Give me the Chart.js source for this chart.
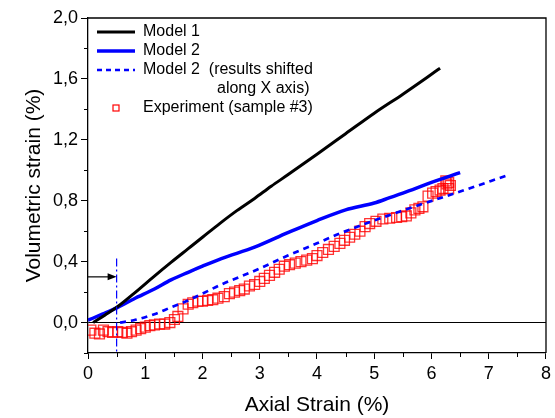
<!DOCTYPE html>
<html><head><meta charset="utf-8">
<script src="https://cdn.jsdelivr.net/npm/chart.js@4/dist/chart.umd.min.js"></script>
<style>html,body{margin:0;padding:0;background:#fff}</style>
</head><body>
<canvas id="c" width="555" height="418"></canvas>
<script>
// ---- data ----
const model1X = [0.09, 0.3, 0.52, 0.8, 1.16, 1.45, 1.75, 2.0, 2.3, 2.6, 2.91, 3.2, 3.49, 4.0, 4.5, 5.0, 5.5, 6.15];
const model1Y = [0.0, 0.05, 0.105, 0.19, 0.305, 0.395, 0.485, 0.56, 0.65, 0.735, 0.815, 0.895, 0.97, 1.105, 1.24, 1.375, 1.5, 1.67];
const model2X = [0.0, 0.25, 0.52, 0.8, 1.16, 1.45, 1.75, 2.0, 2.33, 2.91, 3.49, 4.0, 4.5, 5.0, 5.27, 5.5, 6.0, 6.5];
const model2Y = [0.015, 0.055, 0.10, 0.155, 0.22, 0.28, 0.33, 0.37, 0.42, 0.495, 0.59, 0.67, 0.74, 0.785, 0.82, 0.85, 0.92, 0.985];
const shiftedX = [0.56, 0.8, 1.16, 1.45, 1.75, 2.0, 2.33, 2.91, 3.49, 4.0, 4.4, 5.0, 5.85, 6.5, 7.31];
const shiftedY = [0.0, 0.015, 0.055, 0.10, 0.145, 0.19, 0.25, 0.34, 0.44, 0.52, 0.585, 0.67, 0.78, 0.86, 0.965];
const expX = [0.05, 0.12, 0.2, 0.27, 0.35, 0.43, 0.52, 0.6, 0.68, 0.76, 0.84, 0.92, 1.0, 1.08, 1.16, 1.25, 1.34, 1.43, 1.51, 1.57, 1.66, 1.75, 1.83, 1.92, 2.0, 2.09, 2.18, 2.27, 2.38, 2.47, 2.56, 2.65, 2.73, 2.82, 2.91, 3.0, 3.08, 3.17, 3.26, 3.34, 3.43, 3.52, 3.62, 3.72, 3.82, 3.92, 4.0, 4.1, 4.2, 4.3, 4.4, 4.48, 4.57, 4.66, 4.75, 4.84, 4.92, 5.03, 5.15, 5.27, 5.39, 5.48, 5.56, 5.64, 5.71, 5.78, 5.85, 5.94, 6.02, 6.08, 6.15, 6.2, 6.25, 6.3, 6.33, 6.3, 6.27];
const expY = [-0.05, -0.07, -0.075, -0.05, -0.06, -0.065, -0.06, -0.065, -0.07, -0.06, -0.05, -0.04, -0.03, -0.02, -0.015, -0.01, -0.01, 0.0, 0.02, 0.04, 0.09, 0.12, 0.13, 0.14, 0.14, 0.145, 0.15, 0.16, 0.17, 0.19, 0.2, 0.21, 0.22, 0.24, 0.25, 0.27, 0.29, 0.31, 0.33, 0.35, 0.37, 0.38, 0.39, 0.4, 0.41, 0.42, 0.44, 0.46, 0.48, 0.5, 0.52, 0.54, 0.56, 0.58, 0.6, 0.63, 0.65, 0.665, 0.68, 0.685, 0.69, 0.695, 0.7, 0.72, 0.74, 0.75, 0.76, 0.83, 0.85, 0.86, 0.87, 0.88, 0.93, 0.92, 0.9, 0.88, 0.91];
const legendLabels = ['Model 1', 'Model 2', 'Model 2  (results shifted', 'along X axis)', 'Experiment (sample #3)'];
const xTitle = 'Axial Strain (%)';
const yTitle = 'Volumetric strain (%)';
const arrowY = 0.3, arrowFromX = 0.0, arrowToX = 0.5;
const markerX = 0.5, markerTopY = 0.42;

const toPts = (xs, ys) => xs.map((x, i) => ({x, y: ys[i]}));
const FONT = "'Liberation Sans', Arial, sans-serif";
const isMult = (v, s) => Math.abs(v / s - Math.round(v / s)) < 1e-6;

const extras = {
  id: 'extras',
  afterDraw(chart) {
    const {ctx, chartArea: a, scales: {x, y}} = chart;
    ctx.save();
    // frame top/right
    ctx.strokeStyle = '#000'; ctx.lineWidth = 1.3;
    ctx.beginPath();
    ctx.moveTo(a.left, a.top); ctx.lineTo(a.right, a.top); ctx.lineTo(a.right, a.bottom);
    ctx.stroke();
    // minor ticks
    ctx.lineWidth = 1;
    y.ticks.forEach(t => { if (!isMult(t.value, 0.4)) { const py = Math.round(y.getPixelForValue(t.value)) + 0.5; ctx.beginPath(); ctx.moveTo(a.left - 4, py); ctx.lineTo(a.left, py); ctx.stroke(); } });
    x.ticks.forEach(t => { if (!isMult(t.value, 1)) { const px = Math.round(x.getPixelForValue(t.value)) + 0.5; ctx.beginPath(); ctx.moveTo(px, a.bottom); ctx.lineTo(px, a.bottom + 4); ctx.stroke(); } });
    // vertical dash-dot marker
    ctx.strokeStyle = '#0000ff'; ctx.lineWidth = 1.2; ctx.setLineDash([8, 3, 2, 3]);
    const mx = x.getPixelForValue(markerX);
    ctx.beginPath(); ctx.moveTo(mx, y.getPixelForValue(markerTopY)); ctx.lineTo(mx, a.bottom); ctx.stroke();
    ctx.setLineDash([]);
    // arrow
    const ay = y.getPixelForValue(arrowY), ax0 = x.getPixelForValue(arrowFromX), ax1 = x.getPixelForValue(arrowToX);
    ctx.strokeStyle = '#000'; ctx.fillStyle = '#000'; ctx.lineWidth = 1.2;
    ctx.beginPath(); ctx.moveTo(ax0, ay); ctx.lineTo(ax1 - 6, ay); ctx.stroke();
    ctx.beginPath(); ctx.moveTo(ax1, ay); ctx.lineTo(ax1 - 9, ay - 3.5); ctx.lineTo(ax1 - 9, ay + 3.5); ctx.closePath(); ctx.fill();
    // legend
    const lx0 = a.left + 9, lx1 = a.left + 47, tx = a.left + 55;
    const rows = [a.top + 14, a.top + 33, a.top + 52, a.top + 71, a.top + 90];
    ctx.font = '16px ' + FONT; ctx.fillStyle = '#000'; ctx.textBaseline = 'middle'; ctx.textAlign = 'left';
    const seg = (r, color, w, dash) => { ctx.strokeStyle = color; ctx.lineWidth = w; ctx.setLineDash(dash); ctx.beginPath(); ctx.moveTo(lx0, r); ctx.lineTo(lx1, r); ctx.stroke(); ctx.setLineDash([]); };
    seg(rows[0], '#000', 3, []);
    seg(rows[1], '#0000ff', 3.5, []);
    seg(rows[2], '#0000ff', 2.4, [5, 4]);
    ctx.strokeStyle = '#ff0000'; ctx.lineWidth = 1.2;
    ctx.strokeRect((lx0 + lx1) / 2 - 3, rows[4] - 3, 6, 6);
    ctx.fillText(legendLabels[0], tx, rows[0]);
    ctx.fillText(legendLabels[1], tx, rows[1]);
    ctx.fillText(legendLabels[2], tx, rows[2]);
    ctx.fillText(legendLabels[3], tx + 74, rows[3]);
    ctx.fillText(legendLabels[4], tx, rows[4]);
    ctx.restore();
  }
};

new Chart(document.getElementById('c'), {
  type: 'scatter',
  data: {
    datasets: [
      {label: 'Experiment', data: toPts(expX, expY), pointStyle: 'rect', pointRadius: 7, borderColor: 'rgba(255,0,0,0.8)', backgroundColor: 'rgba(255,255,255,0)', borderWidth: 1.3, showLine: false, order: 4},
      {label: 'Model 1', data: toPts(model1X, model1Y), showLine: true, borderColor: '#000', borderWidth: 3, pointRadius: 0, cubicInterpolationMode: 'monotone', order: 1},
      {label: 'Model 2', data: toPts(model2X, model2Y), showLine: true, borderColor: '#0000ff', borderWidth: 3.5, pointRadius: 0, cubicInterpolationMode: 'monotone', order: 2},
      {label: 'Model 2 shifted', data: toPts(shiftedX, shiftedY), showLine: true, borderColor: '#0000ff', borderWidth: 2.7, borderDash: [6, 5], pointRadius: 0, cubicInterpolationMode: 'monotone', order: 3}
    ]
  },
  options: {
    responsive: false, animation: false,
    layout: {padding: {top: 18, right: 8, left: 0, bottom: 0}},
    plugins: {legend: {display: false}, tooltip: {enabled: false}},
    scales: {
      x: {
        type: 'linear', min: 0, max: 8,
        afterFit: s => { s.height = 65; },
        border: {display: true, color: '#000', width: 1.3},
        grid: {drawOnChartArea: false, drawTicks: true, tickLength: 6, tickColor: c => (c.tick && isMult(c.tick.value, 1)) ? '#000' : 'rgba(0,0,0,0)', color: '#000'},
        ticks: {stepSize: 0.5, autoSkip: false, maxRotation: 0, color: '#000', padding: 4, font: {family: FONT, size: 18}, callback: v => isMult(v, 1) ? String(Math.round(v)) : ''},
        title: {display: true, text: xTitle, color: '#000', font: {family: FONT, size: 21}, padding: {top: 0, bottom: 0}}
      },
      y: {
        type: 'linear', min: -0.2, max: 2.0,
        afterFit: s => { s.width = 88; },
        border: {display: true, color: '#000', width: 1.3},
        grid: {drawOnChartArea: true, drawTicks: true, tickLength: 7, lineWidth: 1,
          color: c => (c.tick && Math.abs(c.tick.value) < 1e-9) ? '#000' : 'rgba(0,0,0,0)',
          tickColor: c => (c.tick && isMult(c.tick.value, 0.4)) ? '#000' : 'rgba(0,0,0,0)'},
        ticks: {stepSize: 0.2, autoSkip: false, color: '#000', padding: 3, font: {family: FONT, size: 18}, callback: v => isMult(v, 0.4) ? v.toFixed(1).replace('.', ',') : ''},
        title: {display: true, text: yTitle, color: '#000', font: {family: FONT, size: 21}, padding: {top: 22, bottom: 0}}
      }
    }
  },
  plugins: [extras]
});
</script>
</body></html>
